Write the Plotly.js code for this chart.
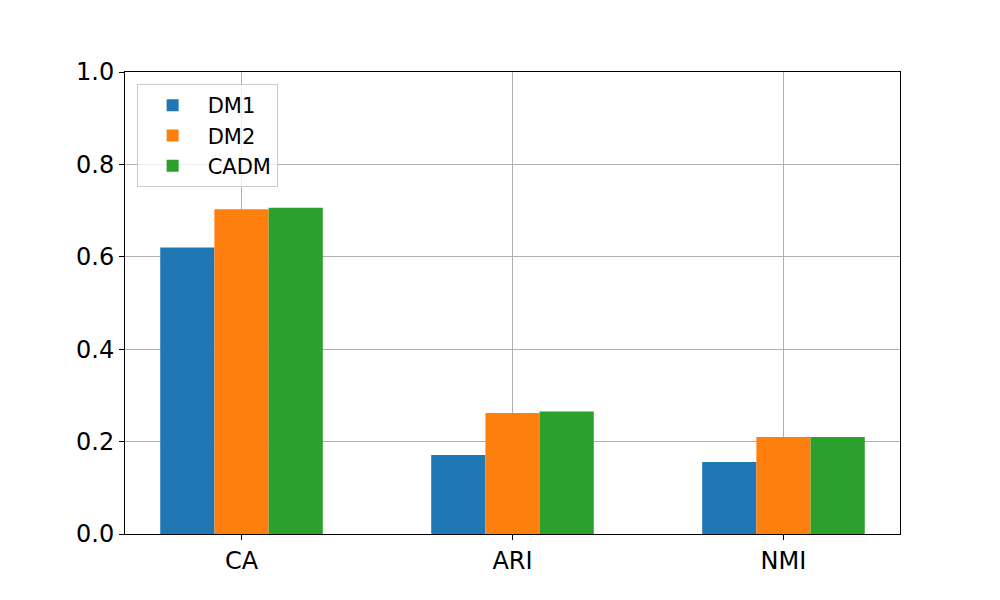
<!DOCTYPE html>
<html>
<head>
<meta charset="utf-8">
<script src="https://cdn.plot.ly/plotly-3.0.1.min.js"></script>
<style>
  html, body { margin: 0; padding: 0; background: #fff; }
  #chart { width: 1000px; height: 600px; }
</style>
</head>
<body>
<div id="chart"></div>
<script>
const metrics = ['CA', 'ARI', 'NMI'];
const dm1 = [0.620, 0.171, 0.156];
const dm2 = [0.703, 0.262, 0.210];
const cadm = [0.706, 0.265, 0.210];
const yTicks = [0, 0.2, 0.4, 0.6, 0.8, 1.0];
const yTickText = ['0.0', '0.2', '0.4', '0.6', '0.8', '1.0'];

const mk = (name, vals, color) => ({
  type: 'bar', name: name, x: metrics, y: vals,
  marker: { color: color, line: { width: 0 } }
});

const traces = [
  mk('DM1', dm1, '#1f77b4'),
  mk('DM2', dm2, '#ff7f0e'),
  mk('CADM', cadm, '#2ca02c')
];

const layout = {
  width: 1000, height: 600,
  margin: { l: 125, r: 100, t: 72, b: 66 },
  paper_bgcolor: '#fff', plot_bgcolor: '#fff',
  font: { family: 'DejaVu Sans, sans-serif', color: '#000' },
  barmode: 'group', bargap: 0.4, bargroupgap: 0,
  xaxis: {
    type: 'category', range: [-0.43, 2.43],
    showgrid: true, gridcolor: '#b0b0b0', gridwidth: 1,
    showline: true, linecolor: '#000', linewidth: 1, mirror: true,
    ticks: 'outside', ticklen: 5, tickcolor: '#000',
    tickfont: { size: 24 }, zeroline: false
  },
  yaxis: {
    range: [0, 1], tickvals: yTicks, ticktext: yTickText,
    showgrid: true, gridcolor: '#b0b0b0', gridwidth: 1,
    showline: true, linecolor: '#000', linewidth: 1, mirror: true,
    ticks: 'outside', ticklen: 5, tickcolor: '#000',
    tickfont: { size: 24 }, zeroline: false
  },
  legend: {
    x: 0.015, y: 0.974, xanchor: 'left', yanchor: 'top',
    bgcolor: 'rgba(255,255,255,0.8)', bordercolor: '#cccccc', borderwidth: 1,
    font: { size: 21 }, itemwidth: 60, tracegroupgap: 3
  },
  showlegend: true
};

Plotly.newPlot('chart', traces, layout, { displayModeBar: false });
</script>
</body>
</html>
